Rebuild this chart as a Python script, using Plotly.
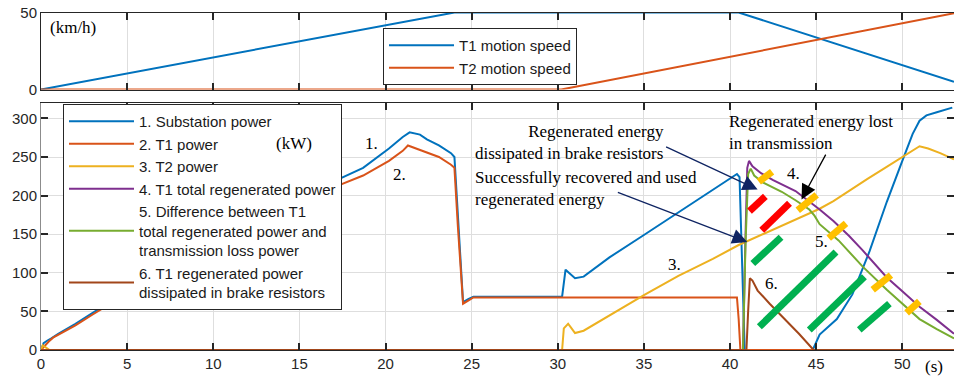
import plotly.graph_objects as go

# ---------------- speed profiles (km/h) ----------------
t1_speed_t = [0, 24.0, 40.5, 53.0]
t1_speed_v = [0, 50, 50, 5.0]
t2_speed_t = [0, 30.2, 53.0]
t2_speed_v = [0, 0, 49.5]

# ---------------- power curves (kW) ----------------
sub_t = [0, 0.15, 0.35, 0.6, 1.0, 1.5, 2, 3, 4, 5, 7, 10, 13, 15, 17.35, 18.7, 20.2, 21.0, 21.4,
         22.0, 22.4, 23.1, 23.8, 24.0, 24.2, 24.5, 24.8, 25.1, 27, 29, 30.25, 30.45, 30.6, 30.8,
         31.0, 31.5, 33, 35, 37, 39, 40.4, 40.55, 40.7, 40.85, 44.8, 45.2, 46.2, 47.1, 48.1, 49.1,
         50.0, 50.6, 51.0, 51.4, 52.0, 52.9]
sub_p = [0, 9, 12, 15, 21, 27, 34, 48, 62, 76, 101, 136, 171, 194, 222, 236, 261, 276, 282,
         279, 273, 265, 255, 250, 170, 62, 66, 69, 69, 69, 69, 104, 101, 96, 93, 95, 120, 149,
         178, 207, 228, 224, 110, 0, 0, 20, 40, 72, 128, 192, 245, 280, 297, 304, 308, 314]

t1_t = [0, 0.2, 0.45, 0.7, 1.2, 2, 3, 4, 5, 7, 10, 13, 15, 17.35, 18.7, 20.2, 21.0, 21.3,
        22.0, 23.1, 23.8, 24.0, 24.2, 24.5, 24.8, 25.1, 30, 35, 40.4, 40.5, 40.6, 53.0]
t1_p = [0, 5, 11, 16, 22, 32, 46, 60, 73, 97, 132, 167, 190, 214, 226, 245, 258, 265,
        259, 250, 240, 236, 160, 60, 64, 68, 68, 68, 68, 40, 0, 0]

t2_t = [0, 0.1, 0.5, 30.25, 30.35, 30.6, 30.8, 31.0, 31.5, 33, 35, 37, 39, 40.5, 42, 44.4,
        45.2, 46, 47, 48, 49, 50, 51.0, 51.5, 52.2, 53.0]
t2_p = [0, 6, 0, 0, 28, 34, 28, 22, 25, 45, 71, 96, 118, 136, 151, 174, 183, 193, 208, 222,
        236, 250, 264, 261, 255, 247]

reg_t = [0, 40.75, 40.9, 41.0, 41.1, 41.3, 41.8, 42.5, 43.8, 45.2, 46.0, 46.9, 47.7, 49.1,
         50.0, 51.0, 52.0, 53.0]
reg_p = [0, 0, 150, 236, 245, 238, 229, 220, 206, 182, 167, 148, 129, 94, 76, 56, 39, 21]

net_t = [0, 40.75, 40.9, 41.05, 41.2, 41.4, 41.9, 43.0, 43.8, 44.6, 44.9, 45.2, 46.3, 47.7,
         49.1, 50.0, 51.0, 52.0, 53.0]
net_p = [0, 0, 140, 228, 235, 226, 217, 205, 194, 182, 174, 163, 142, 108, 78, 60, 40, 27, 15]

brk_t = [0, 40.95, 41.05, 41.15, 41.3, 41.6, 42.3, 43.0, 44.0, 44.85, 53.0]
brk_p = [0, 0, 50, 93, 90, 77, 60, 44, 21, 0, 0]

# ---------------- highlighting strokes (t, kW) ----------------
red_marks = [[(41.13, 180), (42.05, 199)], [(41.84, 155), (43.45, 190)]]
green_marks = [[(41.32, 112), (42.96, 146)], [(41.70, 30), (46.15, 127)],
               [(44.60, 26), (47.80, 95)], [(47.50, 26), (49.25, 60)]]
gold_marks = [[(41.67, 218), (42.44, 231)], [(43.93, 181), (45.03, 201)],
              [(45.73, 145), (46.73, 164)], [(48.28, 78), (49.34, 97)],
              [(50.25, 48), (50.99, 63)]]

x_ticks = list(range(0, 51, 5))
power_ticks = list(range(0, 301, 50))
speed_ticks = [0, 50]

BLUE, ORANGE, YELLOW = "#0072BD", "#D95319", "#EDB120"
PURPLE, GREEN, BROWN = "#7E2F8E", "#77AC30", "#A2461A"
AX = "#262626"
GRID = "#dedede"
SANS = "Liberation Sans"
SERIF = "Liberation Serif"

fig = go.Figure()

fig.add_trace(go.Scatter(x=t1_speed_t, y=t1_speed_v, mode="lines", name="T1 motion speed",
                         line=dict(color=BLUE, width=2), xaxis="x", yaxis="y", legend="legend2"))
fig.add_trace(go.Scatter(x=t2_speed_t, y=t2_speed_v, mode="lines", name="T2 motion speed",
                         line=dict(color=ORANGE, width=2), xaxis="x", yaxis="y", legend="legend2"))

power_series = [
    (sub_t, sub_p, "1. Substation power", BLUE),
    (t1_t, t1_p, "2. T1 power", ORANGE),
    (t2_t, t2_p, "3. T2 power", YELLOW),
    (reg_t, reg_p, "4. T1 total regenerated power", PURPLE),
    (net_t, net_p, "5. Difference between T1<br>total regenerated power and<br>transmission loss power", GREEN),
    (brk_t, brk_p, "6. T1 regenerated power<br>dissipated in brake resistors", BROWN),
]
for xs, ys, name, col in power_series:
    fig.add_trace(go.Scatter(x=xs, y=ys, mode="lines", name=name,
                             line=dict(color=col, width=2), xaxis="x2", yaxis="y2",
                             legend="legend"))


def stroke_trace(segments, color):
    xs, ys = [], []
    for (a, b) in segments:
        xs += [a[0], b[0], None]
        ys += [a[1], b[1], None]
    return go.Scatter(x=xs, y=ys, mode="lines", line=dict(color=color, width=7),
                      showlegend=False, hoverinfo="skip", xaxis="x2", yaxis="y2")


fig.add_trace(stroke_trace(red_marks, "#ff0000"))
fig.add_trace(stroke_trace(green_marks, "#00b050"))
fig.add_trace(stroke_trace(gold_marks, "#ffc000"))

axis_common = dict(showline=True, linecolor=AX, linewidth=1, mirror="ticks", ticks="inside",
                   ticklen=7, tickwidth=2, tickcolor=AX, showgrid=True, gridcolor=GRID,
                   gridwidth=1, zeroline=False, tickfont=dict(family=SANS, size=15, color=AX))

fig.update_layout(
    width=954, height=376,
    margin=dict(l=41, r=0, t=12, b=26),
    paper_bgcolor="white", plot_bgcolor="white",
    xaxis=dict(domain=[0, 1], range=[0, 53], tickvals=x_ticks, showticklabels=False,
               anchor="y", **axis_common),
    yaxis=dict(domain=[0.7707, 0.9985], range=[0, 50], tickvals=speed_ticks, anchor="x",
               **axis_common),
    xaxis2=dict(domain=[0, 1], range=[0, 53], tickvals=x_ticks, anchor="y2", **axis_common),
    yaxis2=dict(domain=[0, 0.7308], range=[0, 320], tickvals=power_ticks, anchor="x2",
                **{**axis_common, "linecolor": "#8c8c8c"}),
    legend=dict(x=0.0241, y=0.7278, xanchor="left", yanchor="top", bgcolor="white",
                bordercolor=AX, borderwidth=1, itemwidth=65,
                font=dict(family=SANS, size=15, color="#1a1a1a")),
    legend2=dict(x=0.3746, y=0.9527, xanchor="left", yanchor="top", bgcolor="white",
                 bordercolor=AX, borderwidth=1, itemwidth=65,
                 font=dict(family=SANS, size=15, color="#1a1a1a")),
    showlegend=True,
)

serif = dict(family=SERIF, size=17, color="#000000")
labels = [
    ("1.", 19.2, 267), ("2.", 20.8, 228), ("3.", 36.8, 111), ("4.", 43.7, 229),
    ("5.", 45.3, 141), ("6.", 42.4, 86), ("(kW)", 14.7, 268),
]
for txt, x, y in labels:
    fig.add_annotation(x=x, y=y, xref="x2", yref="y2", text=txt, showarrow=False, font=serif)

fig.add_annotation(x=1.86, y=40.3, xref="x", yref="y", text="(km/h)", showarrow=False, font=serif)
fig.add_annotation(x=51.86, y=0, xref="x2", yref="paper", yanchor="top", yshift=-5,
                   text="(s)", showarrow=False, font=serif)

# descriptive notes
fig.add_annotation(x=36.3, y=269, xref="x2", yref="y2", xanchor="right", align="right",
                   text="Regenerated energy<br>dissipated in brake resistors",
                   showarrow=False, font=serif)
fig.add_annotation(x=25.05, y=209, xref="x2", yref="y2", xanchor="left", align="left",
                   text="Successfully recovered and used<br>regenerated energy",
                   showarrow=False, font=serif)
fig.add_annotation(x=39.8, y=282, xref="x2", yref="y2", xanchor="left", align="left",
                   text="Regenerated energy lost<br>in transmission",
                   showarrow=False, font=serif)

NAVY = "#0f2462"
arrows = [
    ((36.2, 264), (41.6, 208), NAVY),
    ((33.4, 205), (41.0, 140), NAVY),
    ((45.6, 255), (44.15, 195), "#000000"),
]
for (tail, head, col) in arrows:
    fig.add_annotation(x=head[0], y=head[1], ax=tail[0], ay=tail[1], xref="x2", yref="y2",
                       axref="x2", ayref="y2", text="", showarrow=True, arrowhead=2,
                       arrowsize=2.3, arrowwidth=1.3, arrowcolor=col)

fig.write_html("out.html")
